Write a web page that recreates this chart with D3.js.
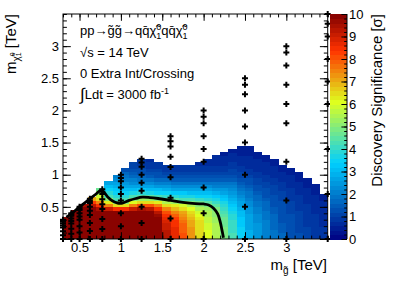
<!DOCTYPE html>
<html lang="en">
<head>
<meta charset="UTF-8">
<title>Discovery significance</title>
<script src="https://cdn.jsdelivr.net/npm/d3@7/dist/d3.min.js"></script>
<style>
    body { margin: 0; background: #fff; }
    svg { display: block; font-family: "Liberation Sans", Arial, Helvetica, sans-serif; }
</style>
</head>
<body>
<svg id="chart" width="399" height="286"></svg>
<script>
// gluino mass bin centres [TeV], bins are 0.1 wide
const mgBins = [0.35, 0.45, 0.55, 0.65, 0.75, 0.85, 0.95, 1.05, 1.15, 1.25, 1.35, 1.45, 1.55, 1.65, 1.75, 1.85,
    1.95, 2.05, 2.15, 2.25, 2.35, 2.45, 2.55, 2.65, 2.75, 2.85, 2.95, 3.05, 3.15, 3.25, 3.35, 3.45];
const mchiBinWidth = 0.05;   // neutralino bins start at 0, read upwards
const mgBinWidth = 0.1;

// discovery significance per gluino bin, from m_chi = 0 upward
const significance = [
    [10, 10, 10, 10, 10, 10, 10],
    [10, 10, 10, 10, 10, 10, 10, 10, 10],
    [10, 10, 10, 10, 10, 10, 10, 10, 10, 10, 9.5],
    [10, 10, 10, 10, 10, 10, 10, 10, 10, 10, 9.3, 8.2, 7.0],
    [10, 10, 10, 10, 10, 10, 10, 10, 10, 9.5, 8.5, 7.5, 6.6, 5.9, 5.3, 4.6],
    [10, 10, 10, 10, 10, 10, 10, 10, 10, 9, 7.5, 6.2, 5.0, 4.3, 3.8, 3.4, 3.1, 2.8],
    [10, 10, 10, 10, 10, 10, 10, 10, 10, 8.5, 6.6, 5.1, 4.3, 3.9, 3.5, 3.2, 2.9, 2.6, 2.3, 2.0],
    [10, 10, 10, 10, 10, 10, 10, 10, 10, 8.5, 6.6, 5.1, 4.3, 3.8, 3.4, 3.0, 2.7, 2.4, 2.1, 1.8, 1.6, 1.4],
    [10, 10, 10, 10, 10, 10, 10, 10, 10, 9, 7.5, 6, 5, 4.2, 3.6, 3.1, 2.7, 2.3, 2.0, 1.7, 1.5, 1.3, 1.1, 1.0],
    [10, 10, 10, 10, 10, 10, 10, 10, 10, 9.5, 8, 6.5, 5.3, 4.5, 3.8, 3.2, 2.7, 2.3, 1.9, 1.6, 1.4, 1.2, 1.0, 0.9, 0.8],
    [10, 10, 10, 10, 10, 10, 10, 10, 9.8, 9.2, 8, 6.5, 5.2, 4.4, 3.7, 3.1, 2.6, 2.2, 1.8, 1.5, 1.3, 1.1, 0.9, 0.8, 0.7],
    [9.9, 9.9, 9.9, 9.9, 9.9, 9.8, 9.8, 9.6, 9.2, 8.5, 7.5, 6.3, 5.0, 4.2, 3.5, 3.0, 2.5, 2.1, 1.7, 1.4, 1.2, 1.0, 0.9, 0.8],
    [9.3, 9.3, 9.2, 9.1, 9.0, 8.9, 8.7, 8.4, 8.0, 7.4, 6.6, 5.6, 4.8, 4.1, 3.5, 2.9, 2.4, 2.0, 1.6, 1.3, 1.1, 0.9, 0.8],
    [8.7, 8.7, 8.6, 8.6, 8.5, 8.4, 8.2, 7.9, 7.5, 6.9, 6.2, 5.2, 4.5, 3.9, 3.3, 2.8, 2.3, 1.9, 1.5, 1.3, 1.1, 0.9, 0.8],
    [8.0, 8.0, 7.9, 7.9, 7.8, 7.7, 7.5, 7.3, 7.0, 6.5, 5.9, 5.0, 4.3, 3.7, 3.2, 2.7, 2.2, 1.8, 1.5, 1.2, 1.0, 0.9, 0.8],
    [7.3, 7.3, 7.2, 7.2, 7.1, 7.0, 6.9, 6.7, 6.4, 6.0, 5.5, 4.8, 4.2, 3.6, 3.1, 2.6, 2.2, 1.8, 1.5, 1.2, 1.0, 0.9, 0.8],
    [6.6, 6.6, 6.5, 6.5, 6.4, 6.4, 6.3, 6.1, 5.9, 5.6, 5.1, 4.6, 4.0, 3.5, 3.0, 2.6, 2.2, 1.8, 1.5, 1.2, 1.0, 0.9, 0.8, 0.7],
    [6.0, 6.0, 6.0, 5.9, 5.9, 5.8, 5.7, 5.6, 5.4, 5.2, 4.9, 4.4, 3.9, 3.4, 3.0, 2.6, 2.2, 1.8, 1.5, 1.2, 1.0, 0.9, 0.8, 0.7, 0.6],
    [5.5, 5.5, 5.5, 5.4, 5.4, 5.3, 5.2, 5.1, 5.0, 4.8, 4.5, 4.1, 3.7, 3.3, 2.9, 2.5, 2.1, 1.8, 1.5, 1.2, 1.0, 0.9, 0.8, 0.7, 0.6, 0.6],
    [4.9, 4.9, 4.8, 4.8, 4.7, 4.7, 4.6, 4.5, 4.3, 4.1, 3.9, 3.6, 3.3, 3.0, 2.7, 2.4, 2.1, 1.8, 1.5, 1.2, 1.0, 0.9, 0.8, 0.7, 0.6, 0.6, 0.5],
    [4.2, 4.2, 4.1, 4.1, 4.0, 4.0, 3.9, 3.8, 3.7, 3.5, 3.3, 3.1, 2.9, 2.7, 2.5, 2.3, 2.0, 1.8, 1.5, 1.3, 1.1, 1.0, 0.9, 0.8, 0.7, 0.6, 0.6, 0.5],
    [3.5, 3.5, 3.4, 3.4, 3.3, 3.3, 3.2, 3.1, 3.0, 2.9, 2.8, 2.6, 2.5, 2.3, 2.1, 1.9, 1.7, 1.5, 1.3, 1.1, 1.0, 0.9, 0.8, 0.7, 0.6, 0.6, 0.5, 0.5, 0.5],
    [2.9, 2.9, 2.9, 2.8, 2.8, 2.7, 2.7, 2.6, 2.5, 2.4, 2.3, 2.2, 2.1, 1.9, 1.8, 1.6, 1.5, 1.3, 1.2, 1.0, 0.9, 0.8, 0.7, 0.7, 0.6, 0.6, 0.5, 0.5, 0.5],
    [2.5, 2.5, 2.4, 2.4, 2.4, 2.3, 2.3, 2.2, 2.1, 2.0, 1.9, 1.8, 1.7, 1.6, 1.5, 1.4, 1.3, 1.1, 1.0, 0.9, 0.8, 0.7, 0.7, 0.6, 0.6, 0.5, 0.5],
    [2.1, 2.1, 2.1, 2.0, 2.0, 2.0, 1.9, 1.9, 1.8, 1.7, 1.7, 1.6, 1.5, 1.4, 1.3, 1.2, 1.1, 1.0, 0.9, 0.8, 0.7, 0.7, 0.6, 0.6, 0.5, 0.5],
    [1.8, 1.8, 1.8, 1.7, 1.7, 1.7, 1.6, 1.6, 1.5, 1.5, 1.4, 1.4, 1.3, 1.2, 1.1, 1.0, 1.0, 0.9, 0.8, 0.7, 0.7, 0.6, 0.6, 0.5, 0.5],
    [1.6, 1.6, 1.5, 1.5, 1.5, 1.4, 1.4, 1.4, 1.3, 1.3, 1.2, 1.2, 1.1, 1.0, 1.0, 0.9, 0.8, 0.8, 0.7, 0.6, 0.6, 0.5, 0.5],
    [1.4, 1.4, 1.3, 1.3, 1.3, 1.2, 1.2, 1.2, 1.1, 1.1, 1.0, 1.0, 0.9, 0.9, 0.8, 0.8, 0.7, 0.7, 0.6, 0.6, 0.5, 0.5],
    [1.2, 1.2, 1.1, 1.1, 1.1, 1.1, 1.0, 1.0, 1.0, 0.9, 0.9, 0.8, 0.8, 0.8, 0.7, 0.7, 0.6, 0.6, 0.5, 0.5, 0.5],
    [1.0, 1.0, 1.0, 1.0, 0.9, 0.9, 0.9, 0.9, 0.8, 0.8, 0.8, 0.7, 0.7, 0.7, 0.6, 0.6, 0.5, 0.5, 0.5],
    [0.9, 0.9, 0.9, 0.9, 0.8, 0.8, 0.8, 0.8, 0.7, 0.7, 0.7, 0.6, 0.6, 0.6, 0.5, 0.5, 0.5],
    [0.8, 0.8, 0.8, 0.8, 0.7, 0.7, 0.7, 0.7, 0.6, 0.6, 0.6, 0.6, 0.5, 0.5]
];

// simulated signal points
const pointMg = [0.3, 0.4, 0.5, 0.625, 0.775, 1.0, 1.25, 1.6, 2.0, 2.5, 3.0, 3.5];
const pointMchi = [
    [0, 0.06, 0.12, 0.18, 0.21, 0.24, 0.27, 0.285, 0.3],
    [0, 0.08, 0.16, 0.24, 0.28, 0.32, 0.36, 0.38, 0.4],
    [0, 0.1, 0.2, 0.3, 0.35, 0.4, 0.45, 0.475, 0.5],
    [0, 0.125, 0.25, 0.375, 0.44, 0.5, 0.56, 0.59, 0.625],
    [0, 0.155, 0.31, 0.465, 0.54, 0.62, 0.7, 0.735, 0.775],
    [0, 0.2, 0.4, 0.6, 0.7, 0.8, 0.9, 0.95, 1.0],
    [0, 0.25, 0.5, 0.75, 0.875, 1.0, 1.125, 1.19, 1.25],
    [0, 0.32, 0.64, 0.96, 1.12, 1.28, 1.44, 1.52, 1.6],
    [0, 0.4, 0.8, 1.2, 1.4, 1.6, 1.8, 1.9, 2.0],
    [0, 0.5, 1.0, 1.5, 1.75, 2.0, 2.25, 2.4, 2.5],
    [0, 0.6, 1.2, 1.8, 2.1, 2.4, 2.7, 2.9, 3.0],
    [0, 0.7, 1.4, 2.1, 2.45, 2.8, 3.15, 3.35, 3.5]
];

// 5 sigma contour
const contourMg   = [0.34, 0.4, 0.5, 0.6, 0.7, 0.76, 0.8, 0.85, 0.9, 0.96, 1.02, 1.1, 1.18, 1.26, 1.35, 1.45,
    1.6, 1.75, 1.9, 2.0, 2.06, 2.12, 2.17, 2.2, 2.22, 2.24];
const contourMchi = [0.34, 0.39, 0.5, 0.6, 0.7, 0.76, 0.72, 0.64, 0.59, 0.56, 0.56, 0.6, 0.63, 0.65, 0.645, 0.63,
    0.6, 0.57, 0.55, 0.545, 0.53, 0.48, 0.39, 0.27, 0.15, 0.02];

const xTicks = [0.5, 1, 1.5, 2, 2.5, 3];
const yTicks = [0, 0.5, 1, 1.5, 2, 2.5, 3];
const zTicks = [0, 1, 2, 3, 4, 5, 6, 7, 8, 9, 10];

const svg = d3.select("#chart");
const frame = { left: 63, right: 327.7, top: 14, bottom: 239 };
const font = "'Liberation Sans', Arial, Helvetica, sans-serif";

const x = d3.scaleLinear().domain([0.3, 3.5]).range([frame.left, frame.right]);
const y = d3.scaleLinear().domain([0, 3.5]).range([frame.bottom, frame.top]);
const z = d3.scaleLinear().domain([0, 10]).range([frame.bottom, frame.top]);

const palette = d3.scaleLinear()
    .domain([0, 3.4, 6.1, 8.4, 10])
    .range(["#000082", "#00cfff", "#deff1f", "#ff3300", "#820000"])
    .clamp(true);
const nLevels = 50;
const levelColor = v => palette((Math.min(nLevels - 1, Math.floor(v / 10 * nLevels)) + 0.5) * 10 / nLevels);

svg.append("defs").append("clipPath").attr("id", "frameClip")
    .append("rect")
    .attr("x", frame.left).attr("y", frame.top)
    .attr("width", frame.right - frame.left).attr("height", frame.bottom - frame.top);

// heat map cells
const cells = [];
significance.forEach((col, i) => {
    col.forEach((v, j) => cells.push({ mg: mgBins[i], lo: j * mchiBinWidth, v: v }));
});

svg.append("g")
    .attr("clip-path", "url(#frameClip)")
    .attr("shape-rendering", "crispEdges")
    .selectAll("rect")
    .data(cells)
    .enter().append("rect")
    .attr("x", d => x(d.mg - mgBinWidth / 2))
    .attr("y", d => y(d.lo + mchiBinWidth))
    .attr("width", d => x(d.mg + mgBinWidth / 2) - x(d.mg - mgBinWidth / 2) + 0.5)
    .attr("height", d => y(d.lo) - y(d.lo + mchiBinWidth) + 0.5)
    .attr("fill", d => levelColor(d.v));

// contour
svg.append("path")
    .datum(contourMg.map((m, i) => [m, contourMchi[i]]))
    .attr("fill", "none")
    .attr("stroke", "#000")
    .attr("stroke-width", 2.8)
    .attr("stroke-linejoin", "round")
    .attr("d", d3.line().x(d => x(d[0])).y(d => y(d[1])).curve(d3.curveCatmullRom));

// signal points
const points = [];
pointMg.forEach((m, i) => pointMchi[i].forEach(c => points.push([m, c])));
svg.append("g")
    .selectAll("path")
    .data(points)
    .enter().append("path")
    .attr("transform", d => `translate(${x(d[0])},${y(d[1])})`)
    .attr("d", d3.symbol(d3.symbolCross, 20))
    .attr("fill", "#000");

// axes, ROOT style: ticks inside on all four sides
function minorTicks(lo, hi, step) {
    const t = [];
    for (let v = lo; v <= hi + 1e-9; v += step) t.push(+v.toFixed(3));
    return t;
}
function styleAxis(g, size) {
    g.select(".domain").remove();
    g.selectAll("line").attr("stroke", "#000");
    g.selectAll("text").attr("font-family", font).attr("font-size", size).attr("fill", "#000");
}

const xMinor = minorTicks(0.3, 3.5, 0.1);
const yMinor = minorTicks(0, 3.5, 0.1);

svg.append("g").attr("transform", `translate(0,${frame.bottom})`)
    .call(d3.axisBottom(x).tickValues(xMinor).tickSize(-3.4).tickFormat(""))
    .call(g => styleAxis(g, 13));
svg.append("g").attr("transform", `translate(0,${frame.bottom})`)
    .call(d3.axisBottom(x).tickValues(xTicks).tickSize(-6.8).tickPadding(4).tickFormat(d3.format("")))
    .call(g => styleAxis(g, 13));
svg.append("g").attr("transform", `translate(0,${frame.top})`)
    .call(d3.axisTop(x).tickValues(xMinor).tickSize(-3.4).tickFormat(""))
    .call(g => styleAxis(g, 13));
svg.append("g").attr("transform", `translate(0,${frame.top})`)
    .call(d3.axisTop(x).tickValues(xTicks).tickSize(-6.8).tickFormat(""))
    .call(g => styleAxis(g, 13));

svg.append("g").attr("transform", `translate(${frame.left},0)`)
    .call(d3.axisLeft(y).tickValues(yMinor).tickSize(-3.9).tickFormat(""))
    .call(g => styleAxis(g, 13));
svg.append("g").attr("transform", `translate(${frame.left},0)`)
    .call(d3.axisLeft(y).tickValues(yTicks).tickSize(-7.8).tickPadding(4)
        .tickFormat(d => d === 0 ? "" : d3.format("")(d)))
    .call(g => styleAxis(g, 13));
svg.append("g").attr("transform", `translate(${frame.right},0)`)
    .call(d3.axisRight(y).tickValues(yMinor).tickSize(-3.9).tickFormat(""))
    .call(g => styleAxis(g, 13));
svg.append("g").attr("transform", `translate(${frame.right},0)`)
    .call(d3.axisRight(y).tickValues(yTicks).tickSize(-7.8).tickFormat(""))
    .call(g => styleAxis(g, 13));

svg.append("rect")
    .attr("x", frame.left).attr("y", frame.top)
    .attr("width", frame.right - frame.left).attr("height", frame.bottom - frame.top)
    .attr("fill", "none").attr("stroke", "#000").attr("stroke-width", 1);

// colour bar
const bar = { left: 329.5, right: 347 };
svg.append("g")
    .attr("shape-rendering", "crispEdges")
    .selectAll("rect")
    .data(d3.range(nLevels))
    .enter().append("rect")
    .attr("x", bar.left)
    .attr("width", bar.right - bar.left)
    .attr("y", k => z((k + 1) * 10 / nLevels))
    .attr("height", k => z(k * 10 / nLevels) - z((k + 1) * 10 / nLevels) + 0.5)
    .attr("fill", k => palette((k + 0.5) * 10 / nLevels));

svg.append("g").attr("transform", `translate(${bar.right},0)`)
    .call(d3.axisRight(z).tickValues(minorTicks(0, 10, 0.2)).tickSize(-2.8).tickFormat(""))
    .call(g => styleAxis(g, 13));
svg.append("g").attr("transform", `translate(${bar.right},0)`)
    .call(d3.axisRight(z).tickValues(zTicks).tickSize(-5.6).tickPadding(2))
    .call(g => styleAxis(g, 13));
svg.append("line")
    .attr("x1", bar.right).attr("x2", bar.right)
    .attr("y1", frame.top).attr("y2", frame.bottom)
    .attr("stroke", "#000");

// titles
const label = (sel) => sel.attr("font-family", font).attr("fill", "#000");

svg.append("text").call(label)
    .attr("transform", `translate(382,${frame.top}) rotate(-90)`)
    .attr("text-anchor", "end")
    .attr("font-size", 15)
    .text("Discovery Significance [σ]");

const yTitle = svg.append("text").call(label)
    .attr("transform", `translate(15.5,${frame.top}) rotate(-90)`)
    .attr("text-anchor", "end")
    .attr("font-size", 15);
yTitle.append("tspan").text("m");
yTitle.append("tspan").attr("font-size", 10).attr("dy", 4).text("\u03C7\u0303");
yTitle.append("tspan").attr("font-size", 7).attr("dy", -5).text("0");
yTitle.append("tspan").attr("font-size", 7).attr("dx", -4).attr("dy", 6).text("1");
yTitle.append("tspan").attr("dy", -5).text(" [TeV]");

const xTitle = svg.append("text").call(label)
    .attr("x", 327).attr("y", 270)
    .attr("text-anchor", "end")
    .attr("font-size", 15);
xTitle.append("tspan").text("m");
xTitle.append("tspan").attr("font-size", 10).attr("dy", 4).text("g\u0303");
xTitle.append("tspan").attr("dy", -4).text(" [TeV]");

// process labels
const proc = svg.append("text").call(label).attr("x", 80).attr("y", 35).attr("font-size", 13);
proc.append("tspan").text("pp\u2192g\u0303g\u0303\u2192qq\u0304\u03C7\u0303");
proc.append("tspan").attr("font-size", 9).attr("dy", -5).text("0");
proc.append("tspan").attr("font-size", 9).attr("dx", -5).attr("dy", 9).text("1");
proc.append("tspan").attr("dy", -4).text("qq\u0304\u03C7\u0303");
proc.append("tspan").attr("font-size", 9).attr("dy", -5).text("0");
proc.append("tspan").attr("font-size", 9).attr("dx", -5).attr("dy", 9).text("1");

svg.append("text").call(label).attr("x", 80).attr("y", 56.5).attr("font-size", 13).text("\u221As = 14 TeV");
svg.append("text").call(label).attr("x", 80).attr("y", 78).attr("font-size", 13).text("0 Extra Int/Crossing");

const lumi = svg.append("text").call(label).attr("x", 80).attr("y", 99).attr("font-size", 13);
lumi.append("tspan").attr("font-size", 17).attr("dy", 1).text("\u222B");
lumi.append("tspan").attr("dy", -1).text("Ldt = 3000 fb");
lumi.append("tspan").attr("font-size", 9).attr("dy", -5).text("-1");
</script>
</body>
</html>
